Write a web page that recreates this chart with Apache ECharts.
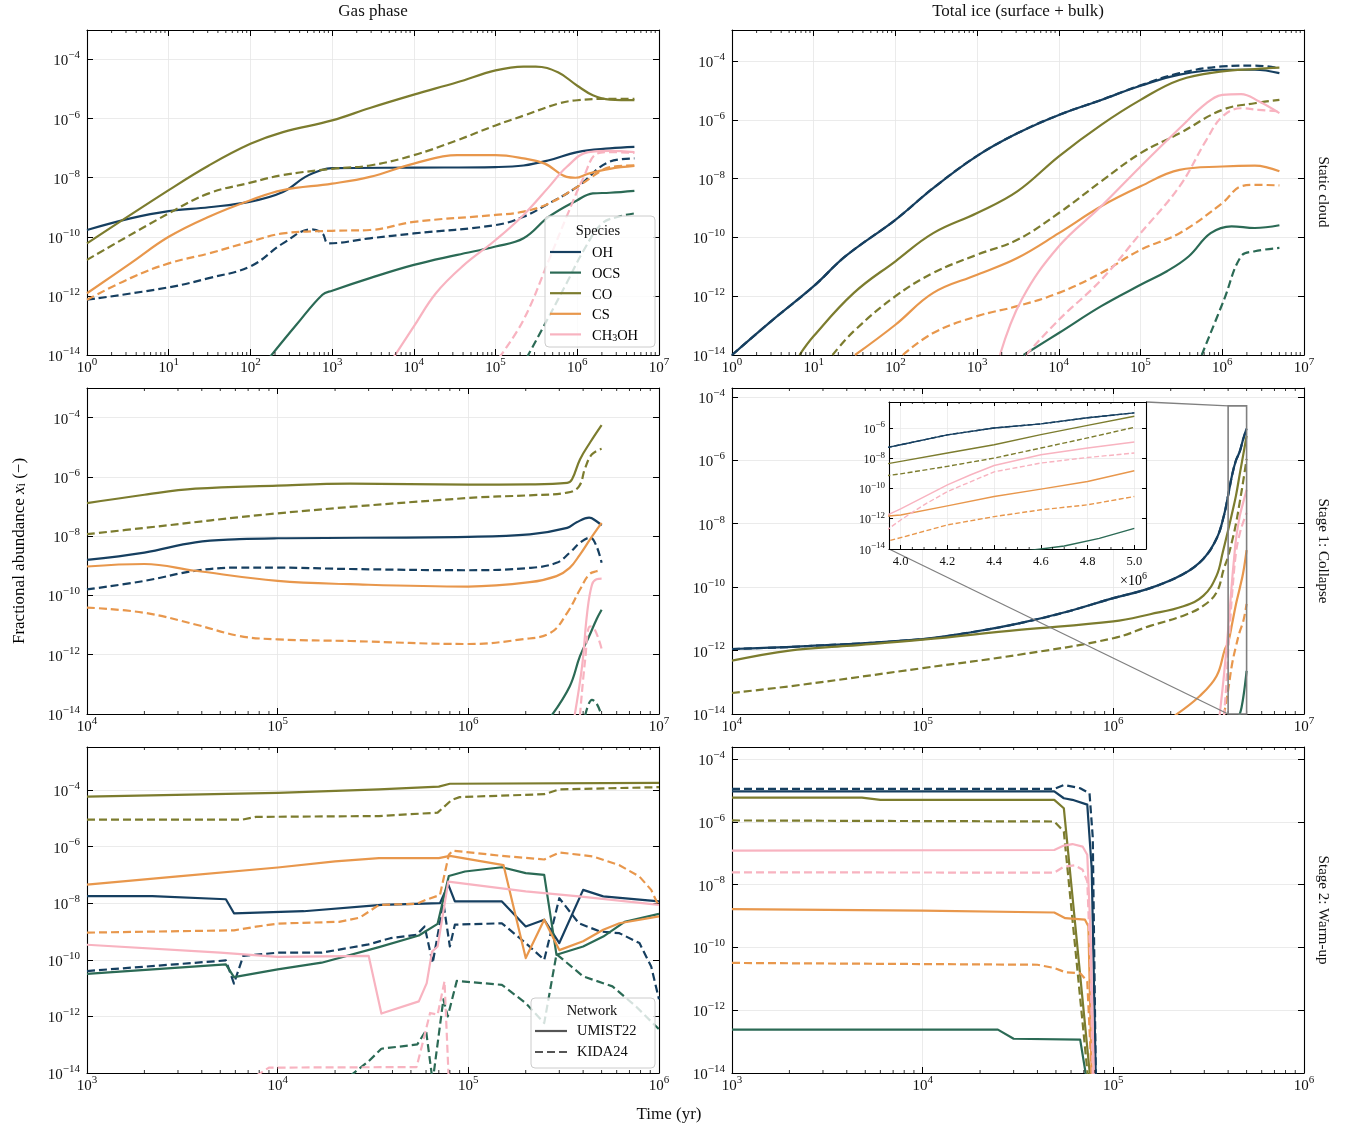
<!DOCTYPE html>
<html>
<head>
<meta charset="utf-8">
<script src="https://cdn.jsdelivr.net/npm/echarts@6/dist/echarts.min.js"></script>
<style>
  html, body { margin: 0; padding: 0; background: #ffffff; }
  #chart { width: 1357px; height: 1132px; }
</style>
</head>
<body>
<div id="chart"></div>
<script>
// ---------------------------------------------------------------------------
// Fractional abundances x_i versus time (yr); pairs are [time, abundance].
// UMIST22 runs are drawn solid, KIDA24 runs dashed.
// ---------------------------------------------------------------------------
const SPECIES = ['OH', 'OCS', 'CO', 'CS', 'CH3OH'];
const NETWORKS = ['UMIST22', 'KIDA24'];
const Y_TICK_EXPONENTS = [-14, -12, -10, -8, -6, -4];
const INSET_X_TICKS = [4.0e6, 4.2e6, 4.4e6, 4.6e6, 4.8e6, 5.0e6];

// Static cloud, gas phase
const staticGasUMIST = {
  OH: [[1,1.7e-10],[3.4,4.2e-10],[10,7.4e-10],[31,1.0e-9],[100,1.55e-9],[250,3.3e-9],[465,1.05e-8],[760,1.86e-8],[1000,2.1e-8],[1e4,2.2e-8],[1e5,2.3e-8],[2.2e5,2.6e-8],[4.5e5,3.9e-8],[1e6,7.4e-8],[2.5e6,9.8e-8],[5e6,1.1e-7]],
  OCS: [[170,8e-15],[365,1.05e-13],[760,1.1e-12],[1000,1.5e-12],[2900,4.0e-12],[1e4,1.12e-11],[3.4e4,2.45e-11],[1e5,4.7e-11],[2.2e5,8.9e-11],[4.5e5,4.8e-10],[1e6,1.74e-9],[1.55e6,2.95e-9],[2.5e6,3.1e-9],[5e6,3.6e-9]],
  CO: [[1,6.0e-11],[10,3.8e-9],[31,2.6e-8],[100,1.4e-7],[250,3.5e-7],[1000,8.7e-7],[2900,2.3e-6],[1e4,6.5e-6],[3.4e4,1.7e-5],[1e5,4.3e-5],[2.2e5,5.8e-5],[3.1e5,5.8e-5],[5.8e5,3.7e-5],[1e6,1.3e-5],[1.55e6,6.2e-6],[2.5e6,4.4e-6],[5e6,4.2e-6]],
  CS: [[1,1.23e-12],[3.4,1.26e-11],[10,1.0e-10],[31,4.8e-10],[100,1.74e-9],[250,3.8e-9],[1000,6.3e-9],[2900,1.07e-8],[1e4,3.0e-8],[3.4e4,5.8e-8],[1e5,5.8e-8],[2.2e5,4.5e-8],[4e5,3.0e-8],[7.4e5,1.07e-8],[9.5e5,1.0e-8],[1.37e6,1.38e-8],[2.5e6,2.0e-8],[5e6,2.5e-8]],
  CH3OH: [[5600,8e-15],[1e4,9.3e-14],[1.86e4,1.23e-12],[3.9e4,9.8e-12],[1e5,7.8e-11],[2.2e5,5.5e-10],[4.5e5,4.9e-9],[7.4e5,2.3e-8],[1.37e6,7.4e-8],[2.5e6,8.1e-8],[5e6,7.4e-8]]
};
const staticGasKIDA = {
  OH: [[1,7.4e-13],[10,1.95e-12],[31,4.0e-12],[100,1.0e-11],[250,6.0e-11],[560,1.78e-10],[760,1.3e-10],[900,6.0e-11],[2900,8.9e-11],[1e4,1.3e-10],[1e5,2.5e-10],[2.2e5,4.8e-10],[4.5e5,1.35e-9],[1e6,4.9e-9],[2.5e6,3.5e-8],[5e6,4.5e-8]],
  OCS: [[2.4e5,8e-15],[4.5e5,2.0e-13],[7.4e5,2.7e-12],[1.2e6,3.5e-11],[2e6,2.8e-10],[3.2e6,4.8e-10],[5e6,6.2e-10]],
  CO: [[1,1.66e-11],[10,6.2e-10],[31,2.95e-9],[100,6.8e-9],[250,1.23e-8],[1000,2.0e-8],[2900,2.6e-8],[1e4,5.8e-8],[3.4e4,1.86e-7],[1e5,5.9e-7],[2.2e5,1.26e-6],[5.8e5,3.2e-6],[1e6,4.2e-6],[2.5e6,4.7e-6],[5e6,4.7e-6]],
  CS: [[1,7.4e-13],[3.4,4.0e-12],[10,1.26e-11],[31,2.75e-11],[100,6.9e-11],[250,1.3e-10],[1000,1.6e-10],[2900,1.7e-10],[1e4,3.2e-10],[1e5,5.5e-10],[2.2e5,7.1e-10],[4.5e5,1.35e-9],[1e6,4.9e-9],[2e6,1.78e-8],[2.5e6,2.3e-8],[5e6,2.6e-8]],
  CH3OH: [[1.1e5,8e-15],[2.2e5,1.55e-13],[4.5e5,1.66e-11],[7.4e5,4.8e-10],[1.2e6,1.07e-8],[1.75e6,6.6e-8],[2.5e6,7.4e-8],[5e6,6.9e-8]]
};

// Static cloud, total ice
const staticIceUMIST = {
  OH: [[1,1e-14],[3,1.4e-13],[10,2.2e-12],[24.5,2.3e-11],[100,4.0e-10],[290,4.8e-9],[1000,6.0e-8],[3100,3.5e-7],[1e4,1.48e-6],[3.3e4,4.8e-6],[1e5,1.45e-5],[3e5,3.5e-5],[1e6,5.1e-5],[2.5e6,5.1e-5],[5e6,3.9e-5]],
  OCS: [[3700,1e-14],[1e4,5.6e-14],[3.3e4,4.6e-13],[1e5,2.45e-12],[2.1e5,7.1e-12],[3.9e5,2.3e-11],[7.2e5,1.4e-10],[1.3e6,2.4e-10],[2.5e6,2.1e-10],[5e6,2.6e-10]],
  CO: [[6.7,1e-14],[10,4.4e-14],[31,1.3e-12],[100,1.55e-11],[290,1.4e-10],[1000,6.8e-10],[3100,3.7e-9],[1e4,5.8e-8],[3.3e4,6.8e-7],[1e5,4.8e-6],[3e5,2.3e-5],[1e6,4.5e-5],[2.5e6,5.4e-5],[5e6,6.0e-5]],
  CS: [[32,1e-14],[100,1.07e-13],[290,1.3e-12],[1000,5.4e-12],[3100,2.0e-11],[1e4,1.4e-10],[3.3e4,1.15e-9],[1e5,5.5e-9],[3e5,2.0e-8],[1e6,2.6e-8],[2.5e6,2.8e-8],[5e6,1.78e-8]],
  CH3OH: [[1900,1e-14],[3500,7.6e-13],[1e4,5.0e-11],[3.3e4,1.15e-9],[1e5,2.6e-8],[3e5,5.2e-7],[6.4e5,3.7e-6],[1e6,7.1e-6],[1.7e6,7.6e-6],[2.8e6,4.3e-6],[5e6,1.7e-6]]
};
const staticIceKIDA = {
  OH: [[1,1e-14],[3,1.4e-13],[10,2.2e-12],[24.5,2.3e-11],[100,4.0e-10],[290,4.8e-9],[1000,6.0e-8],[3100,3.5e-7],[1e4,1.48e-6],[3.3e4,4.8e-6],[1e5,1.5e-5],[3e5,3.9e-5],[1e6,6.6e-5],[2.5e6,7.1e-5],[5e6,5.8e-5]],
  OCS: [[5.6e5,1e-14],[1.05e6,7.6e-13],[1.7e6,2.3e-11],[2.5e6,3.4e-11],[5e6,4.4e-11]],
  CO: [[17,1e-14],[31,6.5e-14],[100,1e-12],[290,6.2e-12],[1000,2.6e-11],[3100,8.3e-11],[1e4,6.8e-10],[3.3e4,8.1e-9],[1e5,7.4e-8],[3e5,3.5e-7],[1e6,2.2e-6],[2.5e6,3.7e-6],[5e6,4.8e-6]],
  CS: [[123,1e-14],[290,5.6e-14],[1000,2.1e-13],[3100,4.6e-13],[1e4,1.3e-12],[3.3e4,6.2e-12],[1e5,3.8e-11],[3e5,1.4e-10],[1e6,1.48e-9],[1.7e6,5.5e-9],[2.5e6,6.2e-9],[5e6,5.9e-9]],
  CH3OH: [[3950,1e-14],[1e4,1.58e-13],[3.3e4,3.6e-12],[1e5,1.4e-10],[3e5,5.5e-9],[6.4e5,2.1e-7],[1e6,1.3e-6],[1.7e6,2.5e-6],[2.8e6,2.2e-6],[5e6,1.95e-6]]
};

// Stage 1: collapse, gas phase
const collapseGasUMIST = {
  OH: [[1e4,1.58e-9],[2e4,2.8e-9],[3.7e4,6.2e-9],[6.3e4,7.9e-9],[1e5,8.5e-9],[1e6,9.5e-9],[2.1e6,1.15e-8],[3.3e6,1.9e-8],[3.7e6,2.95e-8],[4.3e6,4.2e-8],[4.7e6,3.2e-8],[5e6,2.3e-8]],
  OCS: [[2.7e6,8e-15],[3.4e6,8.5e-14],[3.85e6,8.9e-13],[4.3e6,4.2e-12],[4.7e6,1.55e-11],[5e6,3.3e-11]],
  CO: [[1e4,1.3e-7],[2e4,2.5e-7],[3.7e4,4.0e-7],[1e5,5.1e-7],[2.4e5,5.9e-7],[1e6,5.5e-7],[2.1e6,5.6e-7],[3.3e6,6.3e-7],[3.5e6,8.3e-7],[3.85e6,3.9e-6],[4.35e6,1.45e-5],[5e6,5.6e-5]],
  CS: [[1e4,9.5e-10],[2e4,1.15e-9],[3.7e4,6.8e-10],[1e5,3.1e-10],[2.4e5,2.4e-10],[1e6,2.0e-10],[2.1e6,2.8e-10],[2.9e6,4.5e-10],[3.4e6,8.5e-10],[3.85e6,2.4e-9],[4.35e6,7.8e-9],[5e6,2.8e-8]],
  CH3OH: [[3.6e6,8e-15],[3.95e6,4.1e-13],[4.2e6,2.6e-11],[4.45e6,2.3e-10],[4.7e6,3.5e-10],[5e6,3.7e-10]]
};
const collapseGasKIDA = {
  OH: [[1e4,1.6e-10],[2e4,3.1e-10],[3.7e4,6.8e-10],[6.3e4,8.7e-10],[1e5,8.7e-10],[2.4e5,7.8e-10],[1e6,7.1e-10],[2.1e6,8.5e-10],[2.9e6,1.26e-9],[3.4e6,2.75e-9],[3.85e6,6.0e-9],[4.35e6,8.9e-9],[4.7e6,4.6e-9],[5e6,1.26e-9]],
  OCS: [[4.1e6,8.9e-15],[4.45e6,3.0e-14],[4.7e6,2.3e-14],[5e6,8.9e-15]],
  CO: [[1e4,1.17e-8],[2e4,1.9e-8],[1e5,5.9e-8],[1e6,1.95e-7],[2.1e6,2.4e-7],[3.3e6,2.95e-7],[3.8e6,4.7e-7],[4.1e6,2.0e-6],[4.45e6,5.8e-6],[5e6,8.9e-6]],
  CS: [[1e4,3.9e-11],[2e4,2.6e-11],[3.7e4,1.05e-11],[6.3e4,4.3e-12],[1e5,3.3e-12],[2.4e5,2.9e-12],[1e6,2.3e-12],[1.9e6,3.3e-12],[2.7e6,5.5e-12],[3.3e6,2.6e-11],[3.85e6,1.58e-10],[4.3e6,5.1e-10],[4.7e6,6.6e-10],[5e6,7.1e-10]],
  CH3OH: [[3.85e6,8.9e-15],[4.1e6,6.8e-13],[4.35e6,9.1e-12],[4.6e6,7.1e-12],[5e6,1.6e-12]]
};

// Stage 1: collapse, total ice (also shown in the zoomed inset)
const collapseIceUMIST = {
  OH: [[1e4,1.12e-12],[2.3e4,1.35e-12],[1e5,2.3e-12],[1.9e5,4.0e-12],[3.2e5,7.2e-12],[5.5e5,1.58e-11],[1e6,4.5e-11],[1.56e6,9.3e-11],[2.33e6,2.6e-10],[2.97e6,7.9e-10],[3.48e6,3.4e-9],[3.8e6,1.78e-8],[4.0e6,7.8e-8],[4.2e6,3.5e-7],[4.4e6,1.0e-6],[4.6e6,1.86e-6],[4.8e6,4.7e-6],[5e6,1.0e-5]],
  OCS: [[4.55e6,7.9e-15],[4.7e6,1.58e-14],[4.85e6,5.0e-14],[5e6,2.3e-13]],
  CO: [[1e4,4.8e-13],[2e4,1e-12],[4e4,1.4e-12],[1e5,2.2e-12],[3.2e5,4.5e-12],[1e6,8.3e-12],[1.56e6,1.4e-11],[2.33e6,2.5e-11],[2.97e6,5.4e-11],[3.48e6,2.3e-10],[3.75e6,1.26e-9],[4.0e6,6.2e-9],[4.2e6,2.2e-8],[4.4e6,7.8e-8],[4.6e6,3.6e-7],[4.8e6,1.48e-6],[5e6,5.9e-6]],
  CS: [[2.1e6,8.9e-15],[2.84e6,3.7e-14],[3.48e6,1.58e-13],[3.85e6,1.12e-12],[4.0e6,1.78e-12],[4.2e6,7.1e-12],[4.4e6,2.95e-11],[4.6e6,9.1e-11],[4.8e6,2.9e-10],[5e6,1.48e-9]],
  CH3OH: [[3.6e6,7.9e-15],[3.8e6,1.58e-13],[4.0e6,4.5e-12],[4.2e6,1.74e-10],[4.3e6,8.1e-10],[4.4e6,3.3e-9],[4.6e6,1.7e-8],[4.8e6,4.7e-8],[5e6,1.17e-7]]
};
const collapseIceKIDA = {
  OH: [[1e4,1.12e-12],[2.3e4,1.35e-12],[1e5,2.3e-12],[1.9e5,4.0e-12],[3.2e5,7.2e-12],[5.5e5,1.58e-11],[1e6,4.5e-11],[1.56e6,9.3e-11],[2.33e6,2.6e-10],[2.97e6,7.9e-10],[3.48e6,3.4e-9],[3.8e6,1.78e-8],[4.0e6,7.8e-8],[4.2e6,3.5e-7],[4.4e6,1.0e-6],[4.6e6,1.86e-6],[4.8e6,4.7e-6],[5e6,1.0e-5]],
  CO: [[1e4,4.6e-14],[2.3e4,8.3e-14],[1e5,2.8e-13],[3.2e5,7.4e-13],[1e6,2.45e-12],[1.56e6,6.0e-12],[2.33e6,1.26e-11],[2.97e6,2.6e-11],[3.48e6,6.9e-11],[3.8e6,3.8e-10],[4.0e6,9.3e-10],[4.2e6,2.9e-9],[4.4e6,1.02e-8],[4.6e6,4.7e-8],[4.8e6,2.2e-7],[5e6,1.1e-6]],
  CS: [[3.8e6,8.9e-15],[4.0e6,5.6e-14],[4.2e6,3.9e-13],[4.4e6,1.38e-12],[4.6e6,3.9e-12],[4.8e6,8.3e-12],[5e6,2.95e-11]],
  CH3OH: [[3.8e6,7.9e-15],[3.9e6,6.3e-14],[4.0e6,8.3e-13],[4.1e6,8.3e-12],[4.2e6,6.3e-11],[4.4e6,1.26e-9],[4.6e6,4.8e-9],[4.8e6,1.12e-8],[5e6,2.2e-8]]
};

// Stage 2: warm-up, gas phase
const warmGasUMIST = {
  OH: [[1e3,1.78e-8],[2.2e3,1.78e-8],[5.35e3,1.38e-8],[5.9e3,4.4e-9],[1.37e4,5.2e-9],[3.5e4,8.7e-9],[7.1e4,1.0e-8],[7.85e4,4.5e-8],[8.5e4,1.15e-8],[1.5e5,1.15e-8],[2e5,1.5e-9],[2.5e5,2.6e-9],[3e5,3.9e-10],[4e5,2.95e-8],[5.1e5,1.74e-8],[1e6,1.15e-8]],
  OCS: [[1e3,3.2e-11],[5.35e3,6.9e-11],[5.9e3,2.45e-11],[1e4,4.6e-11],[1.7e4,7.9e-11],[3.4e4,2.8e-10],[5.5e4,7.2e-10],[6.9e4,1.86e-9],[7.9e4,9.1e-8],[9.6e4,1.32e-7],[1.5e5,1.86e-7],[2e5,1.15e-7],[2.5e5,1.0e-7],[2.9e5,1.5e-10],[4e5,2.95e-10],[5.1e5,6.6e-10],[6.6e5,2.2e-9],[1e6,4.2e-9]],
  CO: [[1e3,5.8e-5],[1e4,7.9e-5],[3.4e4,1.05e-4],[7e4,1.32e-4],[8e4,1.66e-4],[1e6,1.78e-4]],
  CS: [[1e3,4.5e-8],[3e3,8.9e-8],[1e4,1.82e-7],[2e4,3.0e-7],[3.4e4,3.9e-7],[7e4,3.9e-7],[8e4,4.7e-7],[1.53e5,2.2e-7],[2e5,1.15e-10],[2.5e5,2.6e-9],[3e5,2.2e-10],[4e5,4.5e-10],[5.1e5,1.15e-9],[6.2e5,1.95e-9],[1e6,3.4e-9]],
  CH3OH: [[1e3,3.4e-10],[5e3,1.78e-10],[1e4,1.26e-10],[3e4,1.38e-10],[3.5e4,1.26e-12],[5.5e4,3.4e-12],[6.05e4,1.5e-11],[6.45e4,1.95e-10],[6.9e4,2.95e-10],[7.85e4,5.8e-8],[2e5,2.6e-8],[3.8e5,1.74e-8],[1e6,8.7e-9]]
};
const warmGasKIDA = {
  OH: [[1e3,4.0e-11],[5.35e3,9.5e-11],[5.9e3,1.45e-11],[6.6e3,1.38e-10],[1e4,1.78e-10],[1.7e4,1.78e-10],[3e4,3.5e-10],[3.9e4,5.8e-10],[5.35e4,7.6e-10],[5.9e4,1.5e-9],[6.5e4,7.6e-11],[7.4e4,1.0e-8],[8e4,2.95e-10],[8.5e4,1.74e-9],[1.5e5,1.95e-9],[2e5,3.9e-10],[2.5e5,1.0e-10],[3e5,1.5e-8],[3.8e5,1.95e-9],[4.9e5,1.0e-9],[6.2e5,8.7e-10],[7.9e5,3.9e-10],[9.1e5,5.8e-11],[1e6,4.0e-12]],
  OCS: [[2.4e4,7.9e-15],[3e4,2.6e-14],[3.5e4,7.2e-14],[5.4e4,1.02e-13],[6e4,3.2e-13],[6.5e4,5e-15],[7.4e4,4e-12],[7.8e4,1e-12],[8.7e4,1.8e-11],[1.5e5,1.3e-11],[2e5,2.95e-12],[2.5e5,5.8e-13],[2.9e5,1.58e-10],[4e5,2.6e-11],[5.7e5,1.15e-11],[7.6e5,2.2e-12],[1e6,3.5e-13]],
  CO: [[1e3,8.9e-6],[6.5e3,8.9e-6],[7.7e3,1.12e-5],[3.4e4,1.2e-5],[6.9e4,1.58e-5],[8.2e4,4.5e-5],[9e4,5.6e-5],[2.5e5,7.1e-5],[3e5,1.05e-4],[1e6,1.26e-4]],
  CS: [[1e3,9.1e-10],[5.9e3,1.1e-9],[7.7e3,1.48e-9],[1e4,1.9e-9],[2.1e4,2.2e-9],[2.7e4,3.1e-9],[3.4e4,8.7e-9],[5.35e4,9.5e-9],[6e4,1.32e-8],[7.1e4,1.95e-8],[7.9e4,5.1e-7],[8.3e4,7.2e-7],[1.5e5,4.7e-7],[2.5e5,3.5e-7],[3e5,6.2e-7],[4.5e5,4.5e-7],[6.2e5,2.2e-7],[7.9e5,8.7e-8],[9.1e5,2.95e-8],[1e6,7.6e-9]],
  CH3OH: [[7.7e3,7.9e-15],[9e3,1.55e-14],[5.35e4,1.62e-14],[5.7e4,8.7e-14],[6.3e4,1.32e-12],[6.9e4,1.15e-12],[7.5e4,1.74e-11],[7.9e4,5e-15]]
};

// Stage 2: warm-up, total ice
const warmIceUMIST = {
  OH: [[1e3,9.3e-6],[4.9e4,9.3e-6],[5.5e4,5.6e-6],[6.1e4,5.0e-6],[7.3e4,3.5e-6],[7.7e4,3.3e-8],[8.1e4,5e-15]],
  OCS: [[1e3,2.4e-13],[2.48e4,2.4e-13],[3e4,1.23e-13],[6.7e4,1.15e-13],[7.2e4,7.9e-15]],
  CO: [[1e3,5.9e-6],[4.8e3,5.9e-6],[6e3,5.0e-6],[4.9e4,5.0e-6],[5.5e4,2.7e-6],[7.55e4,7.9e-15]],
  CS: [[1e3,1.66e-9],[1e4,1.48e-9],[4.9e4,1.29e-9],[5.6e4,8.5e-10],[7.1e4,7.6e-10],[7.4e4,4.7e-10],[7.7e4,7.9e-15]],
  CH3OH: [[1e3,1.2e-7],[4.9e4,1.26e-7],[5.5e4,1.74e-7],[6.1e4,1.95e-7],[6.9e4,1.62e-7],[7.3e4,8.9e-8],[7.6e4,2.5e-10],[7.9e4,7.9e-15]]
};
const warmIceKIDA = {
  OH: [[1e3,1.12e-5],[4.9e4,1.12e-5],[5.5e4,1.48e-5],[6.7e4,1.17e-5],[7.5e4,8.1e-6],[7.8e4,3.2e-7],[8.1e4,5e-15]],
  CO: [[1e3,1.1e-6],[4.9e4,1.02e-6],[5.5e4,4.9e-7],[7.35e4,7.9e-15]],
  CS: [[1e3,3.2e-11],[4e4,2.8e-11],[4.9e4,2.2e-11],[5.6e4,1.62e-11],[6.7e4,1.5e-11],[7.3e4,8.3e-12],[7.7e4,7.9e-15]],
  CH3OH: [[1e3,2.45e-8],[4.9e4,2.4e-8],[5.5e4,3.7e-8],[6.3e4,4.1e-8],[6.9e4,2.95e-8],[7.3e4,1.26e-8],[7.6e4,2.2e-11],[7.8e4,7.9e-15]]
};

// ---------------------------------------------------------------------------
// Styling and layout
// ---------------------------------------------------------------------------
const FONT = "'Liberation Serif','DejaVu Serif','Times New Roman',serif";
const INK = '#111111';
const GRID_COLOR = '#e6e6e6';
const COLORS = { OH: '#163f60', OCS: '#2b6a55', CO: '#7c7c2e', CS: '#e8974c', CH3OH: '#f8b3c0' };
const SPECIES_TEXT = { OH: 'OH', OCS: 'OCS', CO: 'CO', CS: 'CS', CH3OH: '{n|CH}{sub|3}{n|OH}' };
const DASH = [8, 4];
const DASH_SMALL = [5, 2.5];

// grid: [left, top, width, height]
const PANELS = [
  { umist: staticGasUMIST,   kida: staticGasKIDA,   grid: [87, 30, 572, 325],  x: [1, 1e7],   y: [1e-14, 1e-3],    smooth: true },
  { umist: staticIceUMIST,   kida: staticIceKIDA,   grid: [732, 30, 572, 325], x: [1, 1e7],   y: [1e-14, 1.15e-3], smooth: true },
  { umist: collapseGasUMIST, kida: collapseGasKIDA, grid: [87, 388, 572, 326], x: [1e4, 1e7], y: [1e-14, 1e-3],    smooth: true },
  { umist: collapseIceUMIST, kida: collapseIceKIDA, grid: [732, 388, 572, 326],x: [1e4, 1e7], y: [1e-14, 1.9e-4],  smooth: true },
  { umist: warmGasUMIST,     kida: warmGasKIDA,     grid: [87, 747, 572, 326], x: [1e3, 1e6], y: [1e-14, 3.3e-3],  smooth: false },
  { umist: warmIceUMIST,     kida: warmIceKIDA,     grid: [732, 747, 572, 326],x: [1e3, 1e6], y: [1e-14, 2.4e-4],  smooth: false }
];
const INSET = { grid: [889, 402, 257, 147], x: [3.95e6, 5.05e6], y: [1e-14, 5.2e-5], zoomX: [4e6, 5e6] };

// "10" with a raised exponent: both fragments sit on the line bottom, the
// exponent is lifted by bottom padding.
function richPow(base, sup, lift) {
  const lh = sup + lift;
  return {
    b: { fontFamily: FONT, fontSize: base, lineHeight: lh, verticalAlign: 'bottom', color: INK },
    s: { fontFamily: FONT, fontSize: sup, lineHeight: sup, verticalAlign: 'bottom', padding: [0, 0, lift, 0], color: INK }
  };
}
const RICH_MAIN = richPow(15, 11, 8);
const RICH_INSET = richPow(12, 9, 6);

function powText(exp) {
  return '{b|10}{s|' + (exp < 0 ? '\u2212' + (-exp) : String(exp)) + '}';
}
function logLabel(step) {
  return function (v) {
    const e = Math.log10(v);
    const r = Math.round(e);
    if (Math.abs(e - r) > 1e-6 || (((r % step) + step) % step) !== 0) return '';
    return powText(r);
  };
}

const spine = { show: true, onZero: false, lineStyle: { color: '#000', width: 1.1 } };
function tickStyle(len) { return { show: true, inside: true, length: len, lineStyle: { color: '#000', width: 1 } }; }

function xAxesFor(gi, range) {
  const base = { type: 'log', logBase: 10, gridIndex: gi, min: range[0], max: range[1], interval: 1,
    axisLine: spine, axisTick: tickStyle(6), minorTick: { show: false }, minorSplitLine: { show: false } };
  return [
    Object.assign({}, base, { position: 'bottom',
      axisLabel: { show: true, formatter: logLabel(1), margin: 2, rich: RICH_MAIN, showMinLabel: true, showMaxLabel: true },
      splitLine: { show: true, lineStyle: { color: GRID_COLOR, width: 0.8 } } }),
    Object.assign({}, base, { position: 'top', axisLabel: { show: false }, splitLine: { show: false } })
  ];
}
function yAxesFor(gi, range) {
  const base = { type: 'log', logBase: 10, gridIndex: gi, min: range[0], max: range[1], interval: 2,
    axisLine: spine, axisTick: tickStyle(6), minorTick: { show: false }, minorSplitLine: { show: false } };
  return [
    Object.assign({}, base, { position: 'left',
      axisLabel: { show: true, formatter: logLabel(2), margin: 7, rich: RICH_MAIN, showMinLabel: true, showMaxLabel: true },
      splitLine: { show: true, lineStyle: { color: GRID_COLOR, width: 0.8 } } }),
    Object.assign({}, base, { position: 'right', axisLabel: { show: false }, splitLine: { show: false } })
  ];
}

function curve(data, color, dashed, xi, yi, opt) {
  return {
    type: 'line', data: data, xAxisIndex: xi, yAxisIndex: yi,
    symbol: 'none', showSymbol: false,
    smooth: opt.smooth ? 0.4 : false,
    clip: true, silent: true, animation: false, z: opt.z,
    lineStyle: { color: color, width: opt.width, type: dashed ? opt.dash : 'solid', cap: 'butt', join: 'round' },
    emphasis: { disabled: true }
  };
}

// minor ticks (inside, on bottom and top spines) drawn through the axis scale
function logMinorPositions(lo, hi) {
  const out = [];
  for (let d = Math.floor(Math.log10(lo)); d < Math.ceil(Math.log10(hi)); d++) {
    for (let k = 2; k <= 9; k++) {
      const v = k * Math.pow(10, d);
      if (v > lo && v < hi) out.push(v);
    }
  }
  return out;
}
function minorTickSeries(xi, yi, positions, yRange, len, z) {
  return {
    type: 'custom', xAxisIndex: xi, yAxisIndex: yi, silent: true, animation: false, clip: false, z: z,
    data: positions.map(function (p) { return [p, yRange[0]]; }),
    encode: { x: 0, y: 1 },
    renderItem: function (params, api) {
      const t = api.value(0);
      const a = api.coord([t, yRange[0]]);
      const b = api.coord([t, yRange[1]]);
      const st = { stroke: '#000', lineWidth: 0.8 };
      return { type: 'group', children: [
        { type: 'line', shape: { x1: a[0], y1: a[1], x2: a[0], y2: a[1] - len }, style: st },
        { type: 'line', shape: { x1: b[0], y1: b[1], x2: b[0], y2: b[1] + len }, style: st }
      ] };
    }
  };
}

// ---------------------------------------------------------------------------
// Option assembly
// ---------------------------------------------------------------------------
const grids = [], xAxes = [], yAxes = [], series = [];

PANELS.forEach(function (p, i) {
  grids.push({ left: p.grid[0], top: p.grid[1], width: p.grid[2], height: p.grid[3], containLabel: false, show: false });
  xAxes.push.apply(xAxes, xAxesFor(i, p.x));
  yAxes.push.apply(yAxes, yAxesFor(i, p.y));
  const xi = 2 * i, yi = 2 * i;
  SPECIES.forEach(function (sp) {
    if (p.umist[sp]) series.push(curve(p.umist[sp], COLORS[sp], false, xi, yi, { smooth: p.smooth, width: 2.2, dash: DASH, z: 2 }));
    if (p.kida[sp]) series.push(curve(p.kida[sp], COLORS[sp], true, xi, yi, { smooth: p.smooth, width: 2.2, dash: DASH, z: 2 }));
  });
  series.push(minorTickSeries(xi, yi, logMinorPositions(p.x[0], p.x[1]), p.y, 3, 3));
});

// zoomed inset of the collapse-stage ice panel
const insetGi = PANELS.length;
grids.push({ left: INSET.grid[0], top: INSET.grid[1], width: INSET.grid[2], height: INSET.grid[3],
  show: true, backgroundColor: '#ffffff', borderWidth: 0, z: 10 });
function insetLabel(v) {
  const m = v / 2e5;
  return Math.abs(m - Math.round(m)) < 1e-6 ? (v / 1e6).toFixed(1) : '';
}
const insetXBase = { type: 'value', gridIndex: insetGi, min: INSET.x[0], max: INSET.x[1], z: 11,
  axisLine: spine, axisTick: Object.assign(tickStyle(4), { customValues: INSET_X_TICKS }) };
xAxes.push(Object.assign({}, insetXBase, { position: 'bottom',
  axisLabel: { show: true, customValues: INSET_X_TICKS, formatter: insetLabel, margin: 6, fontFamily: FONT, fontSize: 12.5, color: INK },
  splitLine: { show: true, lineStyle: { color: GRID_COLOR, width: 0.7 } } }));
xAxes.push(Object.assign({}, insetXBase, { position: 'top', axisLabel: { show: false }, splitLine: { show: false } }));
const insetYBase = { type: 'log', logBase: 10, gridIndex: insetGi, min: INSET.y[0], max: INSET.y[1], interval: 2, z: 11,
  axisLine: spine, axisTick: tickStyle(4), minorTick: { show: false } };
yAxes.push(Object.assign({}, insetYBase, { position: 'left',
  axisLabel: { show: true, formatter: logLabel(2), margin: 4, rich: RICH_INSET, showMinLabel: true, showMaxLabel: true },
  splitLine: { show: true, lineStyle: { color: GRID_COLOR, width: 0.7 } } }));
yAxes.push(Object.assign({}, insetYBase, { position: 'right', axisLabel: { show: false }, splitLine: { show: false } }));

const ixi = 2 * insetGi, iyi = 2 * insetGi;
SPECIES.forEach(function (sp) {
  if (collapseIceUMIST[sp]) series.push(curve(collapseIceUMIST[sp], COLORS[sp], false, ixi, iyi, { smooth: false, width: 1.4, dash: DASH_SMALL, z: 12 }));
  if (collapseIceKIDA[sp]) series.push(curve(collapseIceKIDA[sp], COLORS[sp], true, ixi, iyi, { smooth: false, width: 1.4, dash: DASH_SMALL, z: 12 }));
});
const insetMinor = [];
for (let k = 0; k <= 22; k++) {
  const v = INSET.x[0] + k * 5e4;
  const m = v / 2e5;
  if (v > INSET.x[0] && v < INSET.x[1] && Math.abs(m - Math.round(m)) > 1e-6) insetMinor.push(v);
}
series.push(minorTickSeries(ixi, iyi, insetMinor, INSET.y, 2, 13));

const option = {
  animation: false,
  backgroundColor: '#ffffff',
  grid: grids,
  xAxis: xAxes,
  yAxis: yAxes,
  series: series
};

const chart = echarts.init(document.getElementById('chart'), null, { renderer: 'canvas' });
chart.setOption(option);

// ---------------------------------------------------------------------------
// Titles, row labels, legends and zoom indicator
// ---------------------------------------------------------------------------
function txt(id, x, y, text, size, extra) {
  return Object.assign({ type: 'text', id: id, x: x, y: y, z: 120,
    style: { text: text, fontFamily: FONT, fontSize: size, fill: INK, align: 'center', verticalAlign: 'middle' } }, extra || {});
}

const graphics = [];
graphics.push(txt('t-gas', 373, 12, 'Gas phase', 17));
graphics.push(txt('t-ice', 1018, 12, 'Total ice (surface + bulk)', 17));
graphics.push(txt('r-1', 1323, 192, 'Static cloud', 15, { rotation: -Math.PI / 2 }));
graphics.push(txt('r-2', 1323, 551, 'Stage 1: Collapse', 15, { rotation: -Math.PI / 2 }));
graphics.push(txt('r-3', 1323, 910, 'Stage 2: Warm-up', 15, { rotation: -Math.PI / 2 }));
graphics.push(txt('x-name', 669, 1115, 'Time (yr)', 17));
graphics.push({ type: 'text', id: 'y-name', x: 17, y: 551, rotation: Math.PI / 2, z: 120,
  style: { text: '{n|Fractional abundance }{i|x}{sub|i}{n| (\u2212)}', align: 'center', verticalAlign: 'middle',
    rich: {
      n: { fontFamily: FONT, fontSize: 17, lineHeight: 22, verticalAlign: 'bottom', color: INK },
      i: { fontFamily: FONT, fontSize: 17, fontStyle: 'italic', lineHeight: 22, verticalAlign: 'bottom', color: INK },
      sub: { fontFamily: FONT, fontSize: 12, lineHeight: 12, verticalAlign: 'bottom', color: INK }
    } } });

// Species legend
graphics.push({ type: 'rect', id: 'lg-sp', z: 100, shape: { x: 545, y: 216, width: 110, height: 131, r: 4 },
  style: { fill: 'rgba(255,255,255,0.8)', stroke: '#cccccc', lineWidth: 1 } });
graphics.push(txt('lg-sp-title', 598, 231, 'Species', 14.5, { z: 101 }));
SPECIES.forEach(function (sp, k) {
  const y = 252 + k * 20.6;
  graphics.push({ type: 'line', id: 'lg-sp-l' + k, z: 101, shape: { x1: 550, y1: y, x2: 581, y2: y },
    style: { stroke: COLORS[sp], lineWidth: 2.2 } });
  graphics.push({ type: 'text', id: 'lg-sp-t' + k, x: 592, y: y, z: 101,
    style: { text: SPECIES_TEXT[sp].indexOf('{') >= 0 ? SPECIES_TEXT[sp] : '{n|' + SPECIES_TEXT[sp] + '}',
      align: 'left', verticalAlign: 'middle',
      rich: {
        n: { fontFamily: FONT, fontSize: 14.5, lineHeight: 18, verticalAlign: 'bottom', color: INK },
        sub: { fontFamily: FONT, fontSize: 10, lineHeight: 10, verticalAlign: 'bottom', color: INK }
      } } });
});

// Network legend
graphics.push({ type: 'rect', id: 'lg-nw', z: 100, shape: { x: 531, y: 998, width: 124, height: 70, r: 4 },
  style: { fill: 'rgba(255,255,255,0.8)', stroke: '#cccccc', lineWidth: 1 } });
graphics.push(txt('lg-nw-title', 592, 1011, 'Network', 14.5, { z: 101 }));
NETWORKS.forEach(function (nw, k) {
  const y = 1031 + k * 21;
  graphics.push({ type: 'line', id: 'lg-nw-l' + k, z: 101, shape: { x1: 535, y1: y, x2: 567, y2: y },
    style: { stroke: '#555555', lineWidth: 2.2, lineDash: k === 1 ? DASH : null } });
  graphics.push({ type: 'text', id: 'lg-nw-t' + k, x: 577, y: y, z: 101,
    style: { text: nw, fontFamily: FONT, fontSize: 14.5, fill: INK, align: 'left', verticalAlign: 'middle' } });
});

// zoom indicator rectangle and connectors (positions taken from the axes)
const zoomPanel = 3;
const rTop = chart.convertToPixel({ xAxisIndex: 2 * zoomPanel, yAxisIndex: 2 * zoomPanel }, [INSET.zoomX[0], INSET.y[1]]);
const rBot = chart.convertToPixel({ xAxisIndex: 2 * zoomPanel, yAxisIndex: 2 * zoomPanel }, [INSET.zoomX[1], INSET.y[0]]);
const iTL = chart.convertToPixel({ xAxisIndex: ixi, yAxisIndex: iyi }, [INSET.x[0], INSET.y[1]]);
const iBR = chart.convertToPixel({ xAxisIndex: ixi, yAxisIndex: iyi }, [INSET.x[1], INSET.y[0]]);
graphics.push({ type: 'rect', id: 'zoom-box', z: 9,
  shape: { x: rTop[0], y: rTop[1], width: rBot[0] - rTop[0], height: rBot[1] - rTop[1] },
  style: { fill: 'none', stroke: '#808080', lineWidth: 1.6 } });
graphics.push({ type: 'line', id: 'zoom-c1', z: 9, shape: { x1: iBR[0], y1: iTL[1], x2: rTop[0], y2: rTop[1] },
  style: { stroke: '#808080', lineWidth: 1.3 } });
graphics.push({ type: 'line', id: 'zoom-c2', z: 9, shape: { x1: iTL[0], y1: iBR[1], x2: rTop[0], y2: rBot[1] },
  style: { stroke: '#808080', lineWidth: 1.3 } });
graphics.push({ type: 'text', id: 'inset-offset', x: iBR[0] + 1, y: iBR[1] + 31, z: 120,
  style: { text: '{b|\u00d710}{s|6}', align: 'right', verticalAlign: 'middle', rich: richPow(14, 10, 7) } });

chart.setOption({ graphic: graphics });
</script>
</body>
</html>
